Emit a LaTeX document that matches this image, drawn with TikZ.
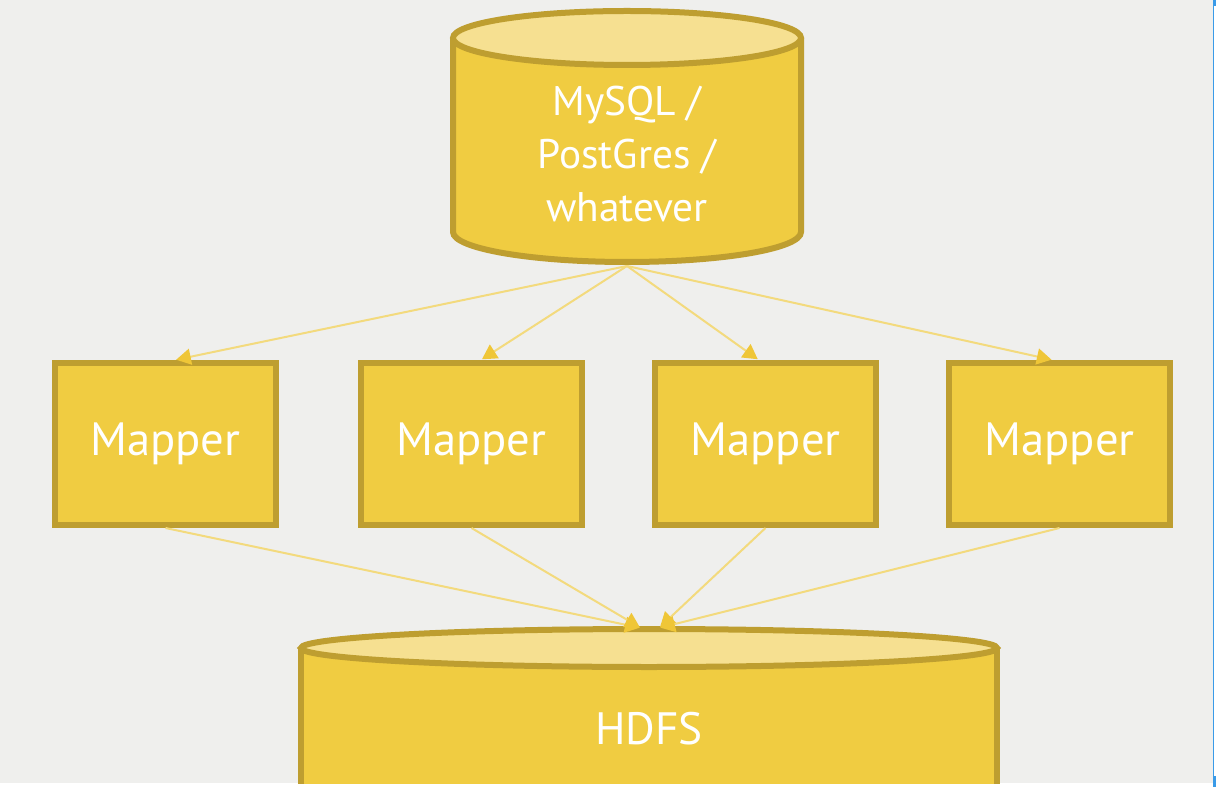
\documentclass[tikz,border=0pt]{standalone}
\usepackage{fontspec}
\setmainfont{PT Sans}
\usetikzlibrary{arrows.meta}

\definecolor{paper}{RGB}{239,239,237}
\definecolor{gold}{RGB}{240,204,65}
\definecolor{goldrim}{RGB}{190,158,48}
\definecolor{goldtop}{RGB}{246,224,145}
\definecolor{flowline}{RGB}{243,218,125}
\definecolor{tipfill}{RGB}{239,198,55}
\definecolor{winblue}{RGB}{58,155,232}

\tikzset{every picture/.style={line width=0.75pt}}
\tikzset{
  mapperbox/.style={draw=goldrim, fill=gold, line width=4.5pt,
    minimum width=166pt, minimum height=121.5pt,
    text=white, font=\fontsize{35}{40}\selectfont},
  flow/.style={draw=flowline, line width=1.5pt,
    -{Triangle[length=11pt,width=12pt,color=tipfill]}, shorten >=1pt},
  dbtext/.style={text=white, align=center, font=\fontsize{31}{40}\selectfont}
}

\begin{document}
\begin{tikzpicture}[x=0.75pt,y=0.75pt,yscale=-1,xscale=1]
\useasboundingbox (0,0) rectangle (1219,787);
\fill [white] (0,0) rectangle (1219,787);
\fill [paper] (0,0) rectangle (1213,783);

%Database cylinder
\draw [goldrim, fill=gold, line width=4.5pt] (453,38) -- (453,232) arc (180:0:174 and 30) -- (801,38) ;
\draw [goldrim, fill=goldtop, line width=4.5pt] (627,38) ellipse [x radius=174, y radius=27] ;
\node [dbtext] (db) at (627,154) {MySQL /\\PostGres /\\whatever} ;
\coordinate (dbout) at (627,266) ;

%HDFS cylinder
\begin{scope}
\clip (0,0) rectangle (1213,783);
\draw [goldrim, fill=gold, line width=4.5pt] (301,648) -- (301,800) -- (997,800) -- (997,648) ;
\draw [goldrim, fill=goldtop, line width=4.5pt] (649,648) ellipse [x radius=348, y radius=19] ;
\end{scope}
\node [text=white, font=\fontsize{34}{40}\selectfont] (hdfs) at (649,729) {HDFS} ;
\coordinate (hdfsL) at (641,628) ;
\coordinate (hdfsR) at (659,628) ;

%Mappers
\node [mapperbox] (m1) at (165.5,444) {Mapper} ;
\node [mapperbox] (m2) at (471.5,444) {Mapper} ;
\node [mapperbox] (m3) at (765.5,444) {Mapper} ;
\node [mapperbox] (m4) at (1059.5,444) {Mapper} ;

%Arrows
\draw [flow] (dbout) -- ([xshift=7pt]m1.north) ;
\draw [flow] (dbout) -- ([xshift=7pt]m2.north) ;
\draw [flow] (dbout) -- ([xshift=-5pt]m3.north) ;
\draw [flow] (dbout) -- ([xshift=-5pt]m4.north) ;
\draw [flow] (m1.south) -- (hdfsL) ;
\draw [flow] (m2.south) -- (hdfsL) ;
\draw [flow] (m3.south) -- (hdfsR) ;
\draw [flow] (m4.south) -- (hdfsR) ;

%window edge
\draw [winblue, line width=1pt] (1213.5,0) -- (1213.5,787) ;
\fill [winblue] (1213,0) rectangle (1216,6) ;
\fill [winblue] (1213,776) rectangle (1216,787) ;

\end{tikzpicture}
\end{document}
